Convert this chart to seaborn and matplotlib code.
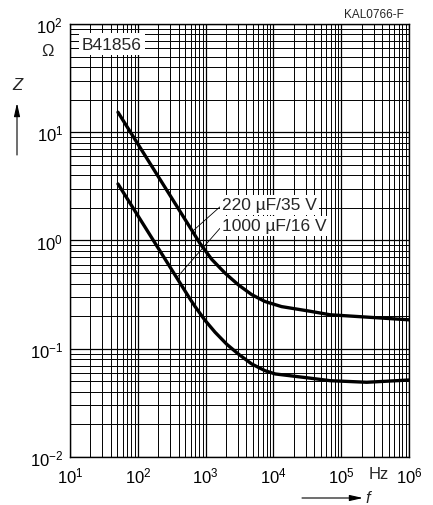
import numpy as np
import pandas as pd
import matplotlib
matplotlib.use("Agg")
import matplotlib.pyplot as plt
from matplotlib.ticker import LogLocator, NullFormatter
import seaborn as sns

# impedance curves (f in Hz, Z in ohm)
f_220 = [51, 100, 300, 630, 826, 1230, 1930, 3030, 4790, 7520, 13200, 34700, 68400, 1000000]
z_220 = [15.3, 7.8, 2.60, 1.235, 0.94, 0.67, 0.50, 0.39, 0.316, 0.273, 0.245, 0.222, 0.206, 0.185]

f_1000 = [51, 100, 300, 590, 700, 980, 1380, 2050, 3030, 4790, 7520, 10600, 34700, 68400, 238000, 1000000]
z_1000 = [3.33, 1.70, 0.566, 0.288, 0.245, 0.183, 0.142, 0.110, 0.0895, 0.0723, 0.0627, 0.0585,
          0.0535, 0.0507, 0.049, 0.0514]

series_labels = ["220 µF/35 V", "1000 µF/16 V"]

df = pd.DataFrame({
    "f": f_220 + f_1000,
    "Z": z_220 + z_1000,
    "type": [series_labels[0]] * len(f_220) + [series_labels[1]] * len(f_1000),
})

sns.set_style("white")
plt.rcParams["font.family"] = ["Liberation Sans", "DejaVu Sans"]
plt.rcParams["mathtext.default"] = "regular"

fig = plt.figure(figsize=(4.33, 5.06), dpi=100)
ax = fig.add_axes([0.1617, 0.0949, 0.7829, 0.8557])

sns.lineplot(data=df, x="f", y="Z", hue="type", palette=["black", "black"],
             linewidth=2.4, legend=False, ax=ax, sort=False, zorder=5)

ax.set_xscale("log")
ax.set_yscale("log")
ax.set_xlim(10, 1e6)
ax.set_ylim(1e-2, 1e2)

for axis in (ax.xaxis, ax.yaxis):
    axis.set_major_locator(LogLocator(base=10, numticks=20))
    axis.set_minor_locator(LogLocator(base=10, subs=np.arange(2, 10), numticks=100))
    axis.set_minor_formatter(NullFormatter())

ax.grid(which="major", color="black", linewidth=0.9)
ax.grid(which="minor", color="black", linewidth=0.7)
ax.tick_params(which="both", length=0, labelsize=12, colors="black")
ax.tick_params(axis="x", pad=6)
ax.tick_params(axis="y", pad=5)
for sp in ax.spines.values():
    sp.set_color("black")
    sp.set_linewidth(1.0)
ax.set_xlabel("")
ax.set_ylabel("")

# unit labels
ax.text(10 ** 5.56, -0.021, "Hz", transform=ax.get_xaxis_transform(),
        ha="center", va="top", fontsize=12)
fig.text(47 / 433, 1 - 52 / 506, "Ω", ha="center", va="center", fontsize=12)

# axis symbols with arrows
fig.text(17 / 433, 1 - 86 / 506, "Z", ha="center", va="center", fontsize=12, style="italic")
ax.annotate("", xy=(17 / 433, 1 - 104 / 506), xytext=(17 / 433, 1 - 156 / 506),
            xycoords="figure fraction",
            arrowprops=dict(arrowstyle="-|>,head_length=0.8,head_width=0.18",
                            color="black", lw=0.8, shrinkA=0, shrinkB=0))
fig.text(368 / 433, 1 - 499 / 506, "f", ha="center", va="center", fontsize=12, style="italic")
ax.annotate("", xy=(363 / 433, 1 - 499 / 506), xytext=(302 / 433, 1 - 499 / 506),
            xycoords="figure fraction",
            arrowprops=dict(arrowstyle="-|>,head_length=0.8,head_width=0.18",
                            color="black", lw=0.8, shrinkA=0, shrinkB=0))

# part number / drawing number
fig.text(82 / 433, 1 - 45 / 506, "B41856", ha="left", va="center", fontsize=12.5,
         bbox=dict(fc="white", ec="none", pad=2.5))
fig.text(404 / 433, 1 - 15 / 506, "KAL0766-F", ha="right", va="center", fontsize=8.5)

# curve labels with leader lines
lead_f = [640, 375]
lead_z = [
    10 ** np.interp(np.log10(lead_f[0]), np.log10(f_220), np.log10(z_220)),
    10 ** np.interp(np.log10(lead_f[1]), np.log10(f_1000), np.log10(z_1000)),
]
text_y = [1 - 206 / 506, 1 - 227 / 506]
for lab, lf, lz, ty in zip(series_labels, lead_f, lead_z, text_y):
    ax.annotate(lab, xy=(lf, lz), xycoords="data",
                xytext=(222 / 433, ty), textcoords="figure fraction",
                ha="left", va="center", fontsize=12.5, zorder=6,
                bbox=dict(fc="white", ec="none", pad=1.5),
                arrowprops=dict(arrowstyle="-", color="black", lw=0.6,
                                shrinkA=0, shrinkB=0, relpos=(0, 0.5)))

fig.savefig("out.png", dpi=100)
